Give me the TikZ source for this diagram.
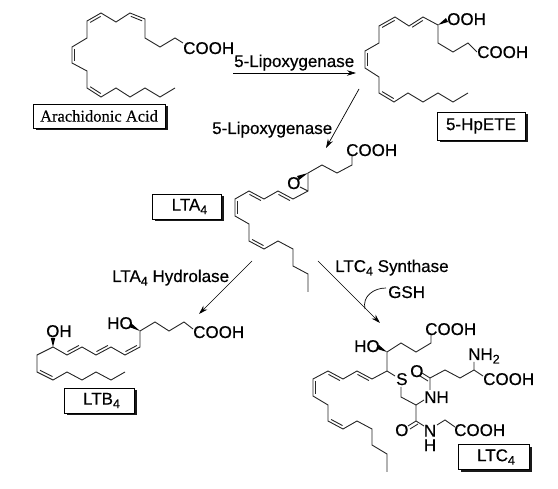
\documentclass[tikz,border=0pt]{standalone}
\usepackage{fontspec}
\setmainfont[FakeBold=0.4]{Liberation Sans}
\newfontfamily\serifx[FakeBold=0.3]{Liberation Serif}
\usetikzlibrary{calc,arrows.meta,shadows}
\newcommand{\dl}[2]{\draw[bond,shorten >=2pt,shorten <=2pt] ($(#1)!2.8pt!90:(#2)$) -- ($(#2)!2.8pt!-90:(#1)$);}
\newcommand{\dr}[2]{\draw[bond,shorten >=2pt,shorten <=2pt] ($(#1)!2.8pt!-90:(#2)$) -- ($(#2)!2.8pt!90:(#1)$);}
\newcommand{\wdg}[2]{\fill[black] (#1) -- ($(#2)!2.2pt!90:(#1)$) -- ($(#2)!2.2pt!-90:(#1)$) -- cycle;}
\newcommand{\sub}[1]{\raisebox{-3.5pt}{\fontsize{12.5}{12.5}\selectfont #1}}
\tikzset{
  bond/.style={line width=0.9pt,line join=miter,black!85},
  chem/.style={inner sep=0pt,anchor=base west,font=\fontsize{17}{17}\selectfont},
  lab/.style={inner sep=0pt,anchor=base west,font=\fontsize{17}{17}\selectfont},
  rarrow/.style={line width=0.7pt,black,-{Stealth[length=9pt,width=5.5pt]}},
  tagbox/.style={draw=black,line width=0.7pt,fill=white,inner sep=0pt,font=\fontsize{17}{17}\selectfont,
    drop shadow={shadow xshift=2.5pt,shadow yshift=-2.5pt,fill=black!90,opacity=1}}
}
\begin{document}
\begin{tikzpicture}[x=1pt,y=-1pt]
\useasboundingbox (0,0) rectangle (558,489);
\fill[white] (0,0) rectangle (558,489);
% Arachidonic acid
\draw[bond] (183,43)--(175,38)--(160,47)--(145,38)--(145,19)--(130,13)--(116,22)--(101,13)--(87,21)--(87,38)--(72,47)--(72,63)--(87,71)--(87,88)--(101,97)--(116,88)--(130,97)--(145,88)--(160,97)--(175,88);
\dl{145,19}{130,13}\dl{101,13}{87,21}\dl{72,47}{72,63}\dl{87,88}{101,97}
\node[chem] (aaCooh) at (183,54) {COOH};
\node[tagbox,minimum width=132pt,minimum height=24pt] (aaBox) at (99,116) {\serifx\fontsize{16.5}{17}\selectfont Arachidonic Acid};
% 5-HpETE
\draw[bond] (477,52)--(468,43)--(453,52)--(438,43)--(438,25)--(423,17)--(409,26)--(395,17)--(379,26)--(379,43)--(365,51)--(365,68)--(379,77)--(379,93)--(394,102)--(408,93)--(423,102)--(438,93)--(453,102)--(468,93);
\dl{423,17}{409,26}\dl{395,17}{379,26}\dl{365,51}{365,68}\dl{379,93}{394,102}
\wdg{438,25}{447,20}
\node[chem] (hpCooh) at (477,58) {COOH};
\node[chem] (hpOoh) at (447,25) {OOH};
\node[tagbox,minimum width=88pt,minimum height=28pt] (hpBox) at (481,126) {5-HpETE};
% LTA4
\draw[bond] (352,155)--(352,165)--(337,173)--(322,165)--(308,173)--(308,191)--(293,199)--(278,191)--(264,199)--(249,191)--(235,199)--(235,216)--(249,224)--(249,241)--(264,249)--(278,241)--(293,249)--(293,266)--(308,274)--(308,292);
\dl{293,199}{278,191}\dl{264,199}{249,191}\dl{235,199}{235,216}\dl{249,241}{264,249}
\draw[bond] (308,191)--(300,187);
\wdg{308,173}{298,178}
\node[chem] (taCooh) at (346,156) {COOH};
\node[chem] (taO) at (287,189) {O};
\node[tagbox,minimum width=69pt,minimum height=25pt] (taBox) at (186.5,206.5) {\hspace*{6pt}LTA\sub{4}};
% LTB4
\draw[bond] (193,329)--(184,322)--(169,331)--(155,322)--(140,331)--(140,347)--(125,355)--(111,347)--(96,355)--(82,347)--(67,355)--(53,347)--(37,355)--(37,372)--(53,380)--(67,372)--(82,380)--(96,372)--(111,380)--(125,372);
\dr{140,347}{125,355}\dr{111,347}{96,355}\dr{82,347}{67,355}\dl{37,372}{53,380}
\wdg{140,331}{130,325}\wdg{53,347}{53,338}
\node[chem] (tbCooh) at (193,338) {COOH};
\node[chem] (tbHo) at (107,329) {HO};
\node[chem] (tbOh) at (46,337) {OH};
\node[tagbox,minimum width=70pt,minimum height=25pt] (tbBox) at (99.5,400.5) {\hspace*{4pt}LTB\sub{4}};
% LTC4
\draw[bond] (431,335)--(431,343)--(416,352)--(401,343)--(387,352)--(387,371)--(372,379)--(357,371)--(343,379)--(328,371)--(313,379)--(313,396)--(328,405)--(328,421)--(343,429)--(357,421)--(372,429)--(372,445)--(387,454)--(387,472);
\dl{372,379}{357,371}\dl{343,379}{328,371}\dl{313,379}{313,396}\dl{328,421}{343,429}
\wdg{387,352}{378,347}
\draw[bond] (387,371)--(395,376);
\draw[bond] (401,387)--(401,397)--(416,405)--(424,400);
\draw[bond] (430,390)--(430,378)--(445,370)--(460,378)--(474,370)--(474,362);
\draw[bond] (474,370)--(483,376);
\draw[bond] (430,378)--(422,373); \draw[bond] (428,381)--(420,376);
\draw[bond] (416,405)--(416,421)--(424,426);
\draw[bond] (416,421)--(408,426); \draw[bond] (418,424)--(410,429);
\draw[bond] (437,425)--(445,420)--(455,427);
\node[chem] (tcCoohA) at (425,335) {COOH};
\node[chem] (tcHo) at (354,352) {HO};
\node[chem] (tcS) at (396,385) {S};
\node[chem] (tcO) at (410,377) {O};
\node[chem] (tcNh) at (424,403) {NH};
\node[chem] (tcNh2) at (468,360) {NH\sub{2}};
\node[chem] (tcCoohB) at (483,385) {COOH};
\node[chem] (tcOb) at (395,436) {O};
\node[chem,anchor=center,align=center,font=\fontsize{17}{14.5}\selectfont] (tcNH) at (430,438) {N\\H};
\node[chem] (tcCoohC) at (454,436) {COOH};
\node[tagbox,minimum width=71pt,minimum height=25pt] (tcBox) at (493.5,457) {\hspace*{5pt}LTC\sub{4}};
% Reaction arrows
\coordinate (a1s) at (233,73); \coordinate (a1e) at (356,73);
\coordinate (a2s) at (359,89); \coordinate (a2e) at (326,148);
\coordinate (a3s) at (252,261); \coordinate (a3e) at (199,314);
\coordinate (a4s) at (318,261); \coordinate (a4e) at (380,323);
\coordinate (gs) at (386,288); \coordinate (ge) at (365,309);
\draw[rarrow] (a1s)--(a1e);
\draw[rarrow] (a2s)--(a2e);
\draw[rarrow] (a3s)--(a3e);
\draw[rarrow] (a4s)--(a4e);
\draw[line width=0.7pt] (gs) .. controls (374,288) and (362,296) .. (ge);
\node[lab] (l1) at (234,67) {5-Lipoxygenase};
\node[lab] (l2) at (212,134) {5-Lipoxygenase};
\node[lab] (l3) at (112,282) {LTA\sub{4} Hydrolase};
\node[lab] (l4) at (335,272) {LTC\sub{4} Synthase};
\node[lab] (l5) at (388,298) {GSH};
\end{tikzpicture}
\end{document}
